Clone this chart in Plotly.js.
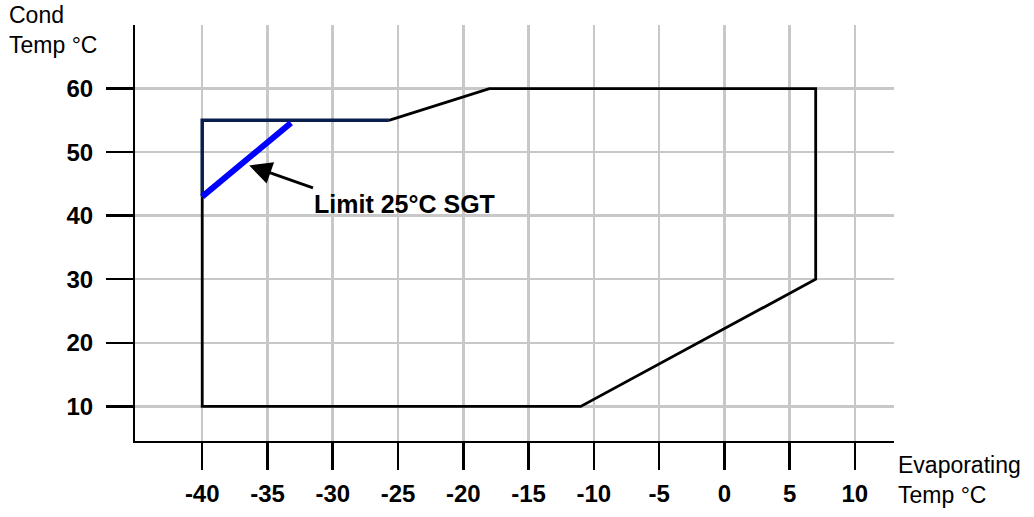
<!DOCTYPE html>
<html>
<head>
<meta charset="utf-8">
<script src="https://cdn.plot.ly/plotly-3.0.1.min.js"></script>
<style>html,body{margin:0;padding:0;background:#fff;}#chart{width:1034px;height:517px;}</style>
</head>
<body>
<div id="chart"></div>
<script>
// Operating envelope (black outline)
const envelopeX = [-40, -40, -11, 7, 7, -18, -25.7];
const envelopeY = [43, 10, 10, 30, 60, 60, 55];
// Upper-left boundary (dark navy)
const navyX = [-25.7, -40, -40];
const navyY = [55, 55, 43];
// Limit 25°C SGT line (blue)
const limitX = [-40, -33.2];
const limitY = [43, 54.6];
// Ticks
const xTicks = [-40, -35, -30, -25, -20, -15, -10, -5, 0, 5, 10];
const yTicks = [10, 20, 30, 40, 50, 60];
const limitLabel = "Limit 25°C SGT";

const FONT = '"Liberation Sans", Arial, sans-serif';

const traces = [
  {x: envelopeX, y: envelopeY, mode: 'lines', line: {color: '#000000', width: 2.8}, hoverinfo: 'skip'},
  {x: navyX, y: navyY, mode: 'lines', line: {color: '#0a1e4e', width: 3.5}, hoverinfo: 'skip'},
  {x: limitX, y: limitY, mode: 'lines', line: {color: '#0000ff', width: 6}, hoverinfo: 'skip'}
];

const layout = {
  width: 1034, height: 517,
  margin: {l: 135, r: 140, t: 25, b: 76},
  paper_bgcolor: '#ffffff', plot_bgcolor: '#ffffff',
  showlegend: false,
  font: {family: FONT, color: '#000000'},
  xaxis: {
    range: [-45.15, 13.0], tickvals: xTicks, ticktext: xTicks.map(String),
    showgrid: true, gridcolor: '#c8c8c8', gridwidth: 2.5,
    zeroline: false, showline: true, linecolor: '#000000', linewidth: 2,
    ticks: 'outside', ticklen: 27, tickwidth: 2.5, tickcolor: '#000000',
    tickfont: {family: FONT, size: 24, weight: 'bold', color: '#000000'},
    ticklabelstandoff: 3
  },
  yaxis: {
    range: [4.55, 70], tickvals: yTicks, ticktext: yTicks.map(String),
    showgrid: true, gridcolor: '#c8c8c8', gridwidth: 2.5,
    zeroline: false, showline: true, linecolor: '#000000', linewidth: 2,
    ticks: 'outside', ticklen: 27, tickwidth: 2.5, tickcolor: '#000000',
    tickfont: {family: FONT, size: 24, weight: 'bold', color: '#000000'},
    ticklabelstandoff: 8
  },
  annotations: [
    {xref: 'x', yref: 'y', x: -36.4, y: 47.9, ax: -31.4, ay: 44.3, axref: 'x', ayref: 'y',
     text: '', showarrow: true, arrowhead: 2, arrowsize: 1.6, arrowwidth: 2.8, arrowcolor: '#000000'},
    {xref: 'x', yref: 'y', x: -24.5, y: 41.9, text: limitLabel, showarrow: false,
     font: {family: FONT, size: 25, weight: 'bold', color: '#000000'}, xanchor: 'center', yanchor: 'middle'},
    {xref: 'paper', yref: 'paper', x: (7 - 135) / 759, y: 1 + (25 - 0) / 415.7, xanchor: 'left', yanchor: 'top',
     text: 'Cond<br>Temp °C', showarrow: false, align: 'left',
     font: {family: FONT, size: 23, color: '#000000'}},
    {xref: 'paper', yref: 'paper', x: (896 - 135) / 759, y: (440.7 - 450) / 415.7, xanchor: 'left', yanchor: 'top',
     text: 'Evaporating<br>Temp °C', showarrow: false, align: 'left',
     font: {family: FONT, size: 23, color: '#000000'}}
  ]
};

Plotly.newPlot('chart', traces, layout, {displayModeBar: false, staticPlot: true});
</script>
</body>
</html>
